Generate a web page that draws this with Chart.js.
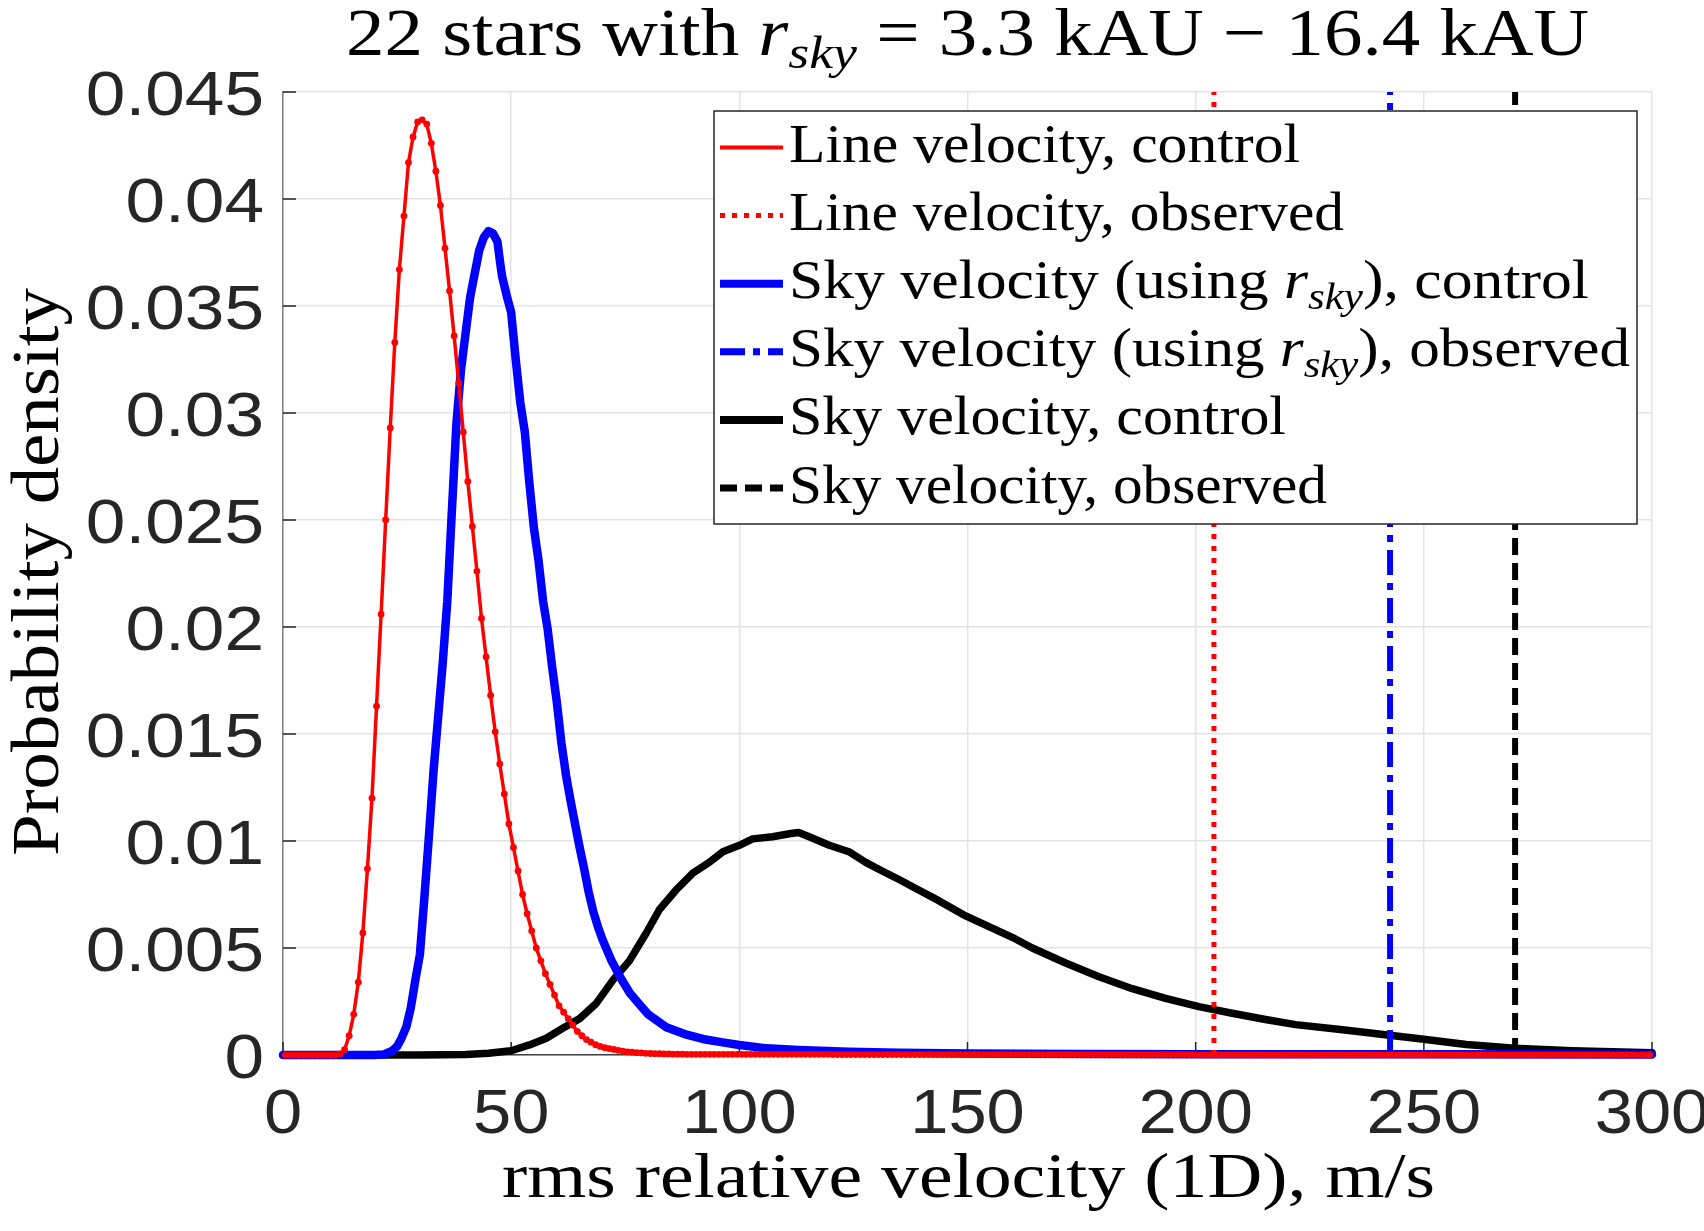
<!DOCTYPE html>
<html><head><meta charset="utf-8">
<script src="https://cdn.jsdelivr.net/npm/chart.js@4.4.0/dist/chart.umd.min.js"></script>
<style>html,body{margin:0;padding:0;background:#fff;}canvas{display:block;}</style>
</head><body>
<canvas id="c" width="1704" height="1231"></canvas>
<script>
// ---------- DATA ----------
const xTickValues = [0, 50, 100, 150, 200, 250, 300];
const xTickLabels = ['0', '50', '100', '150', '200', '250', '300'];
const yTickValues = [0, 0.005, 0.01, 0.015, 0.02, 0.025, 0.03, 0.035, 0.04, 0.045];
const yTickLabels = ['0', '0.005', '0.01', '0.015', '0.02', '0.025', '0.03', '0.035', '0.04', '0.045'];

// Line velocity, control: density in 1 m/s bins (bin centres 0.5 ... 299.5)
const redDensity = [
  0,0,0,0,0,0,0,0,0,0,
  0,0,0.00005,0.00025,0.0009,0.0019,0.0034,0.0057,0.0087,0.0120,
  0.0163,0.0206,0.0250,0.0293,0.0333,0.0367,0.0392,0.0417,0.0429,0.0436,
  0.0437,0.0435,0.0426,0.0413,0.0397,0.0377,0.0357,0.0336,0.0314,0.0291,
  0.0268,0.0247,0.0226,0.0204,0.0186,0.0168,0.0151,0.0136,0.0122,0.0108,
  0.0097,0.0086,0.0075,0.0066,0.0058,0.0050,0.0044,0.0038,0.0033,0.0028,
  0.0023,0.0020,0.0017,0.0014,0.0011,0.0009,0.00072,0.0006,0.00048,0.0004,
  0.00034,0.0003,0.00026,0.00022,0.00018,0.00015,0.00013,0.00011,0.0001,0.00008,
  0.00007,0.00006,0.00006,0.00005,0.00005,0.00004,0.00004,0.00004,0.00003,0.00003,
  0.00003,0.00003,0.00003,0.00003,0.00003,0.00003,0.00003,0.00003,0.00003,0.00003,
  0.00003,0.00003,0.00003,0.00003,0.00003,0.00003,0.00003,0.00003,0.00003,0.00003,
  0.00003,0.00003,0.00003,0.00003,0.00003,0.00003,0.00003,0.00003,0.00003,0.00003,
  0.00002,0.00002,0.00002,0.00002,0.00002,0.00002,0.00002,0.00002,0.00002,0.00002,
  0.00002,0.00002,0.00002,0.00002,0.00002,0.00002,0.00002,0.00002,0.00002,0.00002,
  0.00002,0.00002,0.00002,0.00002,0.00002,0.00002,0.00002,0.00002,0.00002,0.00002,
  0.00002,0.00002,0.00002,0.00002,0.00002,0.00002,0.00002,0.00002,0.00002,0.00002,
  0.00002,0.00002,0.00002,0.00002,0.00002,0.00002,0.00002,0.00002,0.00002,0.00002,
  0.00002,0.00002,0.00002,0.00002,0.00002,0.00002,0.00002,0.00002,0.00002,0.00002,
  0.00002,0.00002,0.00002,0.00002,0.00002,0.00002,0.00002,0.00002,0.00002,0.00002,
  0.00002,0.00002,0.00002,0.00002,0.00002,0.00002,0.00002,0.00002,0.00002,0.00002,
  0.00001,0.00001,0.00001,0.00001,0.00001,0.00001,0.00001,0.00001,0.00001,0.00001,
  0.00001,0.00001,0.00001,0.00001,0.00001,0.00001,0.00001,0.00001,0.00001,0.00001,
  0.00001,0.00001,0.00001,0.00001,0.00001,0.00001,0.00001,0.00001,0.00001,0.00001,
  0.00001,0.00001,0.00001,0.00001,0.00001,0.00001,0.00001,0.00001,0.00001,0.00001,
  0.00001,0.00001,0.00001,0.00001,0.00001,0.00001,0.00001,0.00001,0.00001,0.00001,
  0.00001,0.00001,0.00001,0.00001,0.00001,0.00001,0.00001,0.00001,0.00001,0.00001,
  0.00001,0.00001,0.00001,0.00001,0.00001,0.00001,0.00001,0.00001,0.00001,0.00001,
  0.00001,0.00001,0.00001,0.00001,0.00001,0.00001,0.00001,0.00001,0.00001,0.00001,
  0.00001,0.00001,0.00001,0.00001,0.00001,0.00001,0.00001,0.00001,0.00001,0.00001,
  0.00001,0.00001,0.00001,0.00001,0.00001,0.00001,0.00001,0.00001,0.00001,0.00001
];

// Sky velocity (using r_sky), control
const blueVel = [0,20,22,24,25,26,27,28,29,30,31,32,33,34,35,36,37,38,39,40,41,42,43,44,45,46,47,47.6,48,49,50,51,52,53,54,55,56,57,58,59,60,61,62,63,64,65,66,67,68,69,70,72,74,76,78,80,84,88,92,96,100,106,113,124,135,150,175,200,250,300];
const blueDensity = [0,0,0.00002,0.0002,0.0004,0.0008,0.0013,0.0022,0.0035,0.0047,0.0074,0.0103,0.0133,0.0158,0.0183,0.0212,0.0254,0.0295,0.0320,0.0337,0.0354,0.0365,0.0376,0.0382,0.0385,0.0384,0.0380,0.0370,0.0364,0.0355,0.0347,0.0325,0.0305,0.0291,0.0267,0.0246,0.0231,0.0212,0.0199,0.0181,0.0165,0.0146,0.0131,0.0119,0.0108,0.0097,0.0087,0.0076,0.0067,0.0060,0.0054,0.0044,0.0036,0.0029,0.0024,0.0019,0.0013,0.00098,0.00075,0.0006,0.00047,0.00031,0.00023,0.00015,0.0001,0.00007,0.00005,0.00004,0.00003,0.00002];

// Sky velocity, control
const blackVel = [0,30,40,45,50,54,57.7,61.3,65,68.6,72.3,75.9,79.6,82.5,86.1,89.8,93.4,96.4,100,102.9,107.3,111.3,113,115.3,119.7,124,127.7,131.3,135,139.4,143.8,149.6,154.7,159.8,164.2,171.5,178.8,186.1,193.4,200.7,208,215.3,221.9,232.2,242.5,250,259.3,269.9,282.5,300];
const blackDensity = [0,0,0.00002,0.00008,0.0002,0.00047,0.00078,0.00125,0.0017,0.0024,0.0035,0.0044,0.0057,0.0068,0.0077,0.0085,0.0090,0.0095,0.0098,0.0101,0.0102,0.01035,0.0104,0.0102,0.0098,0.0095,0.0090,0.0086,0.0082,0.0077,0.0072,0.0065,0.0060,0.0055,0.0050,0.0043,0.00366,0.0031,0.00265,0.00226,0.00195,0.00166,0.00142,0.00118,0.00092,0.00074,0.00049,0.00032,0.0002,0.00011];

// Observed values (vertical lines), m/s
const lineObserved = 204;
const skyRskyObserved = 242.6;
const skyObserved = 270;

const seriesLabels = [
  'Line velocity, control',
  'Line velocity, observed',
  'Sky velocity (using r_sky), control',
  'Sky velocity (using r_sky), observed',
  'Sky velocity, control',
  'Sky velocity, observed'
];

// ---------- HELPERS ----------
const redVel = redDensity.map((_, i) => i + 0.5);
const toXY = (xs, ys) => xs.map((x, i) => ({ x: x, y: ys[i] }));
const vline = v => [{ x: v, y: yTickValues[0] }, { x: v, y: yTickValues[yTickValues.length - 1] }];

const SERIF = '"Liberation Serif","Times New Roman",serif';
const SANS = '"Liberation Sans", Arial, Helvetica, sans-serif';
function segFont(s, size) {
  const fs = s.sub ? size * 0.7 : size;
  return (s.it ? 'italic ' : '') + fs + 'px ' + SERIF;
}
function richWidth(ctx, segs, size) {
  let w = 0;
  for (const s of segs) { ctx.font = segFont(s, size); w += ctx.measureText(s.t).width; }
  return w;
}
function drawRich(ctx, segs, x, y, size, sx) {
  ctx.save();
  ctx.translate(x, y);
  ctx.scale(sx, 1);
  ctx.textBaseline = 'alphabetic';
  ctx.textAlign = 'left';
  let cx = 0;
  for (const s of segs) {
    ctx.font = segFont(s, size);
    ctx.fillText(s.t, cx, s.sub ? size * 0.2 : 0);
    cx += ctx.measureText(s.t).width;
  }
  ctx.restore();
}
function toSegs(label) {
  const i = label.indexOf('r_sky');
  if (i < 0) return [{ t: label }];
  return [{ t: label.slice(0, i) }, { t: 'r', it: 1 }, { t: 'sky', it: 1, sub: 1 }, { t: label.slice(i + 5) }];
}
function sansText(ctx, txt, x, y, size, sx, align) {
  ctx.save();
  ctx.font = size + 'px ' + SANS;
  ctx.textBaseline = 'alphabetic';
  ctx.textAlign = 'left';
  const w = ctx.measureText(txt).width * sx;
  const x0 = align === 'right' ? x - w : (align === 'center' ? x - w / 2 : x);
  ctx.translate(x0, y);
  ctx.scale(sx, 1);
  ctx.fillText(txt, 0, 0);
  ctx.restore();
}

const titleSegs = [{ t: '22 stars with ' }, { t: 'r', it: 1 }, { t: 'sky', it: 1, sub: 1 }, { t: ' = 3.3 kAU \u2212 16.4 kAU' }];
const xTitle = [{ t: 'rms relative velocity (1D), m/s' }];
const yTitle = [{ t: 'Probability density' }];

const legendStyles = [
  { color: '#ff0000', width: 4, dash: [] },
  { color: '#ff0000', width: 5, dash: [5, 7] },
  { color: '#0000ff', width: 8, dash: [] },
  { color: '#0000ff', width: 7, dash: [25, 8, 7, 8] },
  { color: '#000000', width: 8, dash: [] },
  { color: '#000000', width: 7, dash: [17, 8] }
];
const legendTextEnds = [1300, 1344, 1589, 1630, 1286, 1327];

const TICK_SIZE = 63, TICK_SX = 1.09;

const decorPlugin = {
  id: 'decor',
  beforeDatasetsDraw(chart) {
    const { ctx, chartArea, scales } = chart;
    ctx.save();
    ctx.strokeStyle = '#262626';
    ctx.lineWidth = 1.5;
    ctx.beginPath();
    for (const v of xTickValues) {
      const px = scales.x.getPixelForValue(v);
      ctx.moveTo(px, chartArea.bottom); ctx.lineTo(px, chartArea.bottom - 13);
    }
    for (const v of yTickValues) {
      const py = scales.y.getPixelForValue(v);
      ctx.moveTo(chartArea.left, py); ctx.lineTo(chartArea.left + 13, py);
    }
    ctx.stroke();
    ctx.restore();
  },
  afterDraw(chart) {
    const { ctx, chartArea, scales } = chart;
    ctx.save();
    // tick labels
    ctx.fillStyle = '#262626';
    const half = 0.358 * TICK_SIZE;
    yTickValues.forEach((v, i) => {
      const py = scales.y.getPixelForValue(v);
      sansText(ctx, yTickLabels[i], chartArea.left - 19, py + half, TICK_SIZE, TICK_SX + 0.04, 'right');
    });
    xTickValues.forEach((v, i) => {
      const px = scales.x.getPixelForValue(v);
      sansText(ctx, xTickLabels[i], px, chartArea.bottom + 33 + 2 * half, TICK_SIZE, TICK_SX, 'center');
    });

    ctx.fillStyle = '#000';
    // title
    {
      const size = 67, w = richWidth(ctx, titleSegs, size);
      drawRich(ctx, titleSegs, 346, 55, size, (1589 - 346) / w);
    }
    // x title
    {
      const size = 64, w = richWidth(ctx, xTitle, size);
      drawRich(ctx, xTitle, 502, 1197, size, (1435 - 502) / w);
    }
    // y title
    {
      const size = 67, w = richWidth(ctx, yTitle, size);
      const target = 568, sx = target / w;
      ctx.save();
      ctx.translate(58, 572);
      ctx.rotate(-Math.PI / 2);
      drawRich(ctx, yTitle, -target / 2, 0, size, sx);
      ctx.restore();
    }
    // legend box
    const L = 714, T = 111, R = 1637, B = 524;
    ctx.fillStyle = '#ffffff';
    ctx.fillRect(L, T, R - L, B - T);
    ctx.strokeStyle = '#262626';
    ctx.lineWidth = 1.5;
    ctx.strokeRect(L, T, R - L, B - T);
    const size = 55;
    for (let i = 0; i < seriesLabels.length; i++) {
      const cy = 147.5 + i * 68.1;
      const st = legendStyles[i];
      ctx.save();
      ctx.strokeStyle = st.color;
      ctx.lineWidth = st.width;
      ctx.setLineDash(st.dash);
      ctx.lineCap = 'butt';
      ctx.beginPath();
      ctx.moveTo(720, cy); ctx.lineTo(783, cy);
      ctx.stroke();
      ctx.restore();
      ctx.fillStyle = '#000';
      const segs = toSegs(seriesLabels[i]);
      const sx = (legendTextEnds[i] - 789) / richWidth(ctx, segs, size);
      drawRich(ctx, segs, 789, cy + 14.5, size, sx);
    }
    ctx.restore();
  }
};

new Chart(document.getElementById('c'), {
  type: 'line',
  data: {
    datasets: [
      { label: seriesLabels[0], data: toXY(redVel, redDensity), borderColor: '#ff0000', backgroundColor: '#ff0000',
        borderWidth: 3.5, pointRadius: 3.4, pointHoverRadius: 3.4, pointBorderWidth: 0, pointBackgroundColor: '#ff0000',
        tension: 0, clip: false, borderJoinStyle: 'round', borderCapStyle: 'round' },
      { label: seriesLabels[1], data: vline(lineObserved), borderColor: '#ff0000', borderWidth: 5, borderDash: [5, 7],
        pointRadius: 0, clip: false },
      { label: seriesLabels[2], data: toXY(blueVel, blueDensity), borderColor: '#0000ff', borderWidth: 8.5,
        pointRadius: 0, tension: 0, clip: false, borderJoinStyle: 'round', borderCapStyle: 'round' },
      { label: seriesLabels[3], data: vline(skyRskyObserved), borderColor: '#0000ff', borderWidth: 6, borderDash: [25, 8, 7, 8],
        pointRadius: 0, clip: false },
      { label: seriesLabels[4], data: toXY(blackVel, blackDensity), borderColor: '#000000', borderWidth: 7.5,
        pointRadius: 0, tension: 0, clip: false, borderJoinStyle: 'round', borderCapStyle: 'round' },
      { label: seriesLabels[5], data: vline(skyObserved), borderColor: '#000000', borderWidth: 6, borderDash: [17, 8],
        pointRadius: 0, clip: false }
    ]
  },
  options: {
    responsive: false,
    animation: false,
    devicePixelRatio: 1,
    layout: { padding: { top: 92, right: 52, left: 0, bottom: 0 } },
    plugins: { legend: { display: false }, tooltip: { enabled: false }, title: { display: false } },
    scales: {
      x: {
        type: 'linear', min: 0, max: 300,
        afterFit(s) { s.height = 176; s.paddingLeft = 0; s.paddingRight = 0; },
        afterBuildTicks(s) { s.ticks = xTickValues.map(v => ({ value: v })); },
        ticks: { display: false, autoSkip: false },
        grid: { color: '#e3e3e3', lineWidth: 1.5, drawTicks: false },
        border: { display: true, color: '#404040', width: 1.5 }
      },
      y: {
        type: 'linear', min: 0, max: 0.045,
        afterFit(s) { s.width = 283; s.paddingTop = 0; s.paddingBottom = 0; },
        afterBuildTicks(s) { s.ticks = yTickValues.map(v => ({ value: v })); },
        ticks: { display: false, autoSkip: false },
        grid: { color: '#e3e3e3', lineWidth: 1.5, drawTicks: false },
        border: { display: true, color: '#808080', width: 1.5 }
      }
    }
  },
  plugins: [decorPlugin]
});
</script>
</body></html>
